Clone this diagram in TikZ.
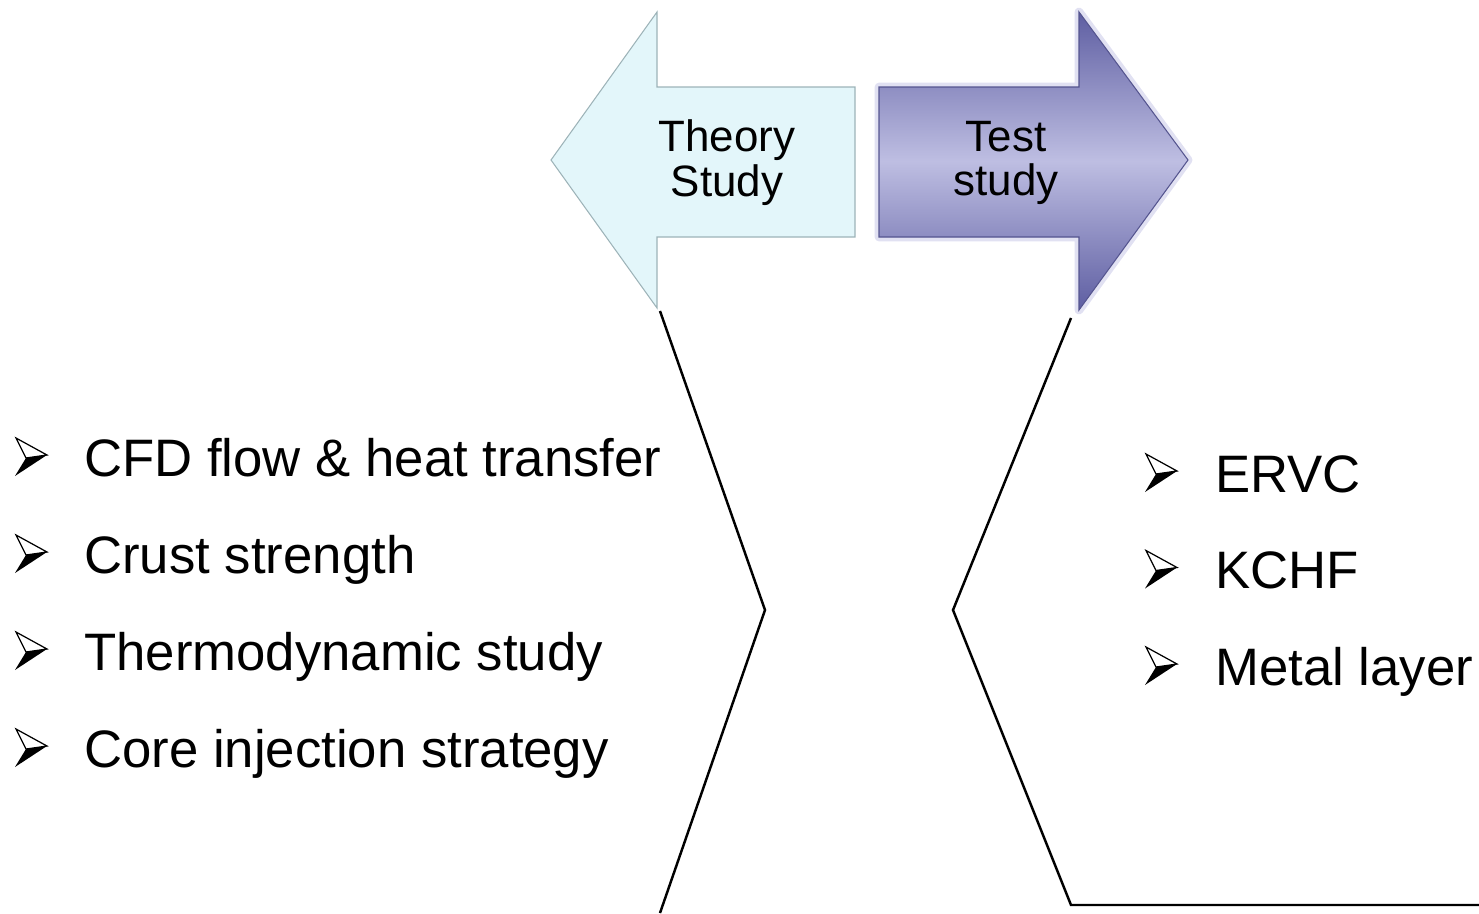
\documentclass[tikz,border=0pt]{standalone}
\usepackage{fontspec}
\setmainfont{Liberation Sans}
\usepackage{tikz}
\usetikzlibrary{positioning}
\usepackage{xcolor}

\definecolor{theoryfill}{HTML}{E3F6FA}
\definecolor{theoryedge}{HTML}{9DB3B8}
\definecolor{testdark}{HTML}{5E5EA2}
\definecolor{testlight}{HTML}{BEBEE2}
\definecolor{testedge}{HTML}{55558F}
\definecolor{testglow}{HTML}{CDCDEA}

\tikzset{
  arrowlabel/.style={align=center, inner sep=0pt, font=\fontsize{25}{25.5}\selectfont},
  itemtext/.style={anchor=base west, inner sep=0pt, font=\fontsize{30}{36}\selectfont},
  zigzag/.style={line width=1.4pt, black},
  pics/bulletarrow/.style={code={
    \draw[line width=0.7pt, fill=white, line join=miter] (16,-38) -- (47,-21) -- (26,-18) -- cycle;
    \fill[black] (26,-18) -- (47,-21) -- (15,0) -- cycle;
  }}
}

\begin{document}
\begin{tikzpicture}[x=0.02cm, y=-0.02cm]
        \useasboundingbox (0,0) rectangle (1479,913);

        % Theory arrow (left)
        \draw[theoryedge, fill=theoryfill, line width=0.6pt]
            (551,160) -- (657,12) -- (657,87) -- (855,87) -- (855,237) -- (657,237) -- (657,308) -- cycle;
        \node[arrowlabel] (theory) at (727,163) {Theory\\Study};

        % Test arrow (right)
        \draw[testglow, line width=5pt, opacity=0.6, line join=round]
            (879,87) -- (1079,87) -- (1079,12) -- (1188,160) -- (1079,310) -- (1079,237) -- (879,237) -- cycle;
        \draw[testedge, line width=0.6pt, top color=testdark, bottom color=testdark, middle color=testlight]
            (879,87) -- (1079,87) -- (1079,12) -- (1188,160) -- (1079,310) -- (1079,237) -- (879,237) -- cycle;
        \node[arrowlabel] (test) at (1006,163) {Test\\study};

        % Zigzag lines
        \coordinate (theoryfoot) at (660,311);
        \coordinate (theorybend) at (765,610);
        \coordinate (theoryend) at (660,913);
        \coordinate (testfoot) at (1071,318);
        \coordinate (testbend) at (953,610);
        \coordinate (testcorner) at (1071,905);
        \coordinate (testend) at (1479,905);
        \draw[zigzag] (theoryfoot) -- (theorybend) -- (theoryend);
        \draw[zigzag, line join=miter] (testfoot) -- (testbend) -- (testcorner) -- (testend);

        % Items
        \foreach \txt [count=\i] in {CFD flow \& heat transfer, Crust strength, Thermodynamic study, Core injection strategy} {
            \node[itemtext] (theoryitem\i) at (84,379+97*\i) {\txt};
            \pic at (0,379+97*\i) {bulletarrow};
        }
        \foreach \txt [count=\i] in {ERVC, KCHF, Metal layer} {
            \node[itemtext] (testitem\i) at (1215,395.5+96.5*\i) {\txt};
            \pic at (1130,395.5+96.5*\i) {bulletarrow};
        }
\end{tikzpicture}
\end{document}
